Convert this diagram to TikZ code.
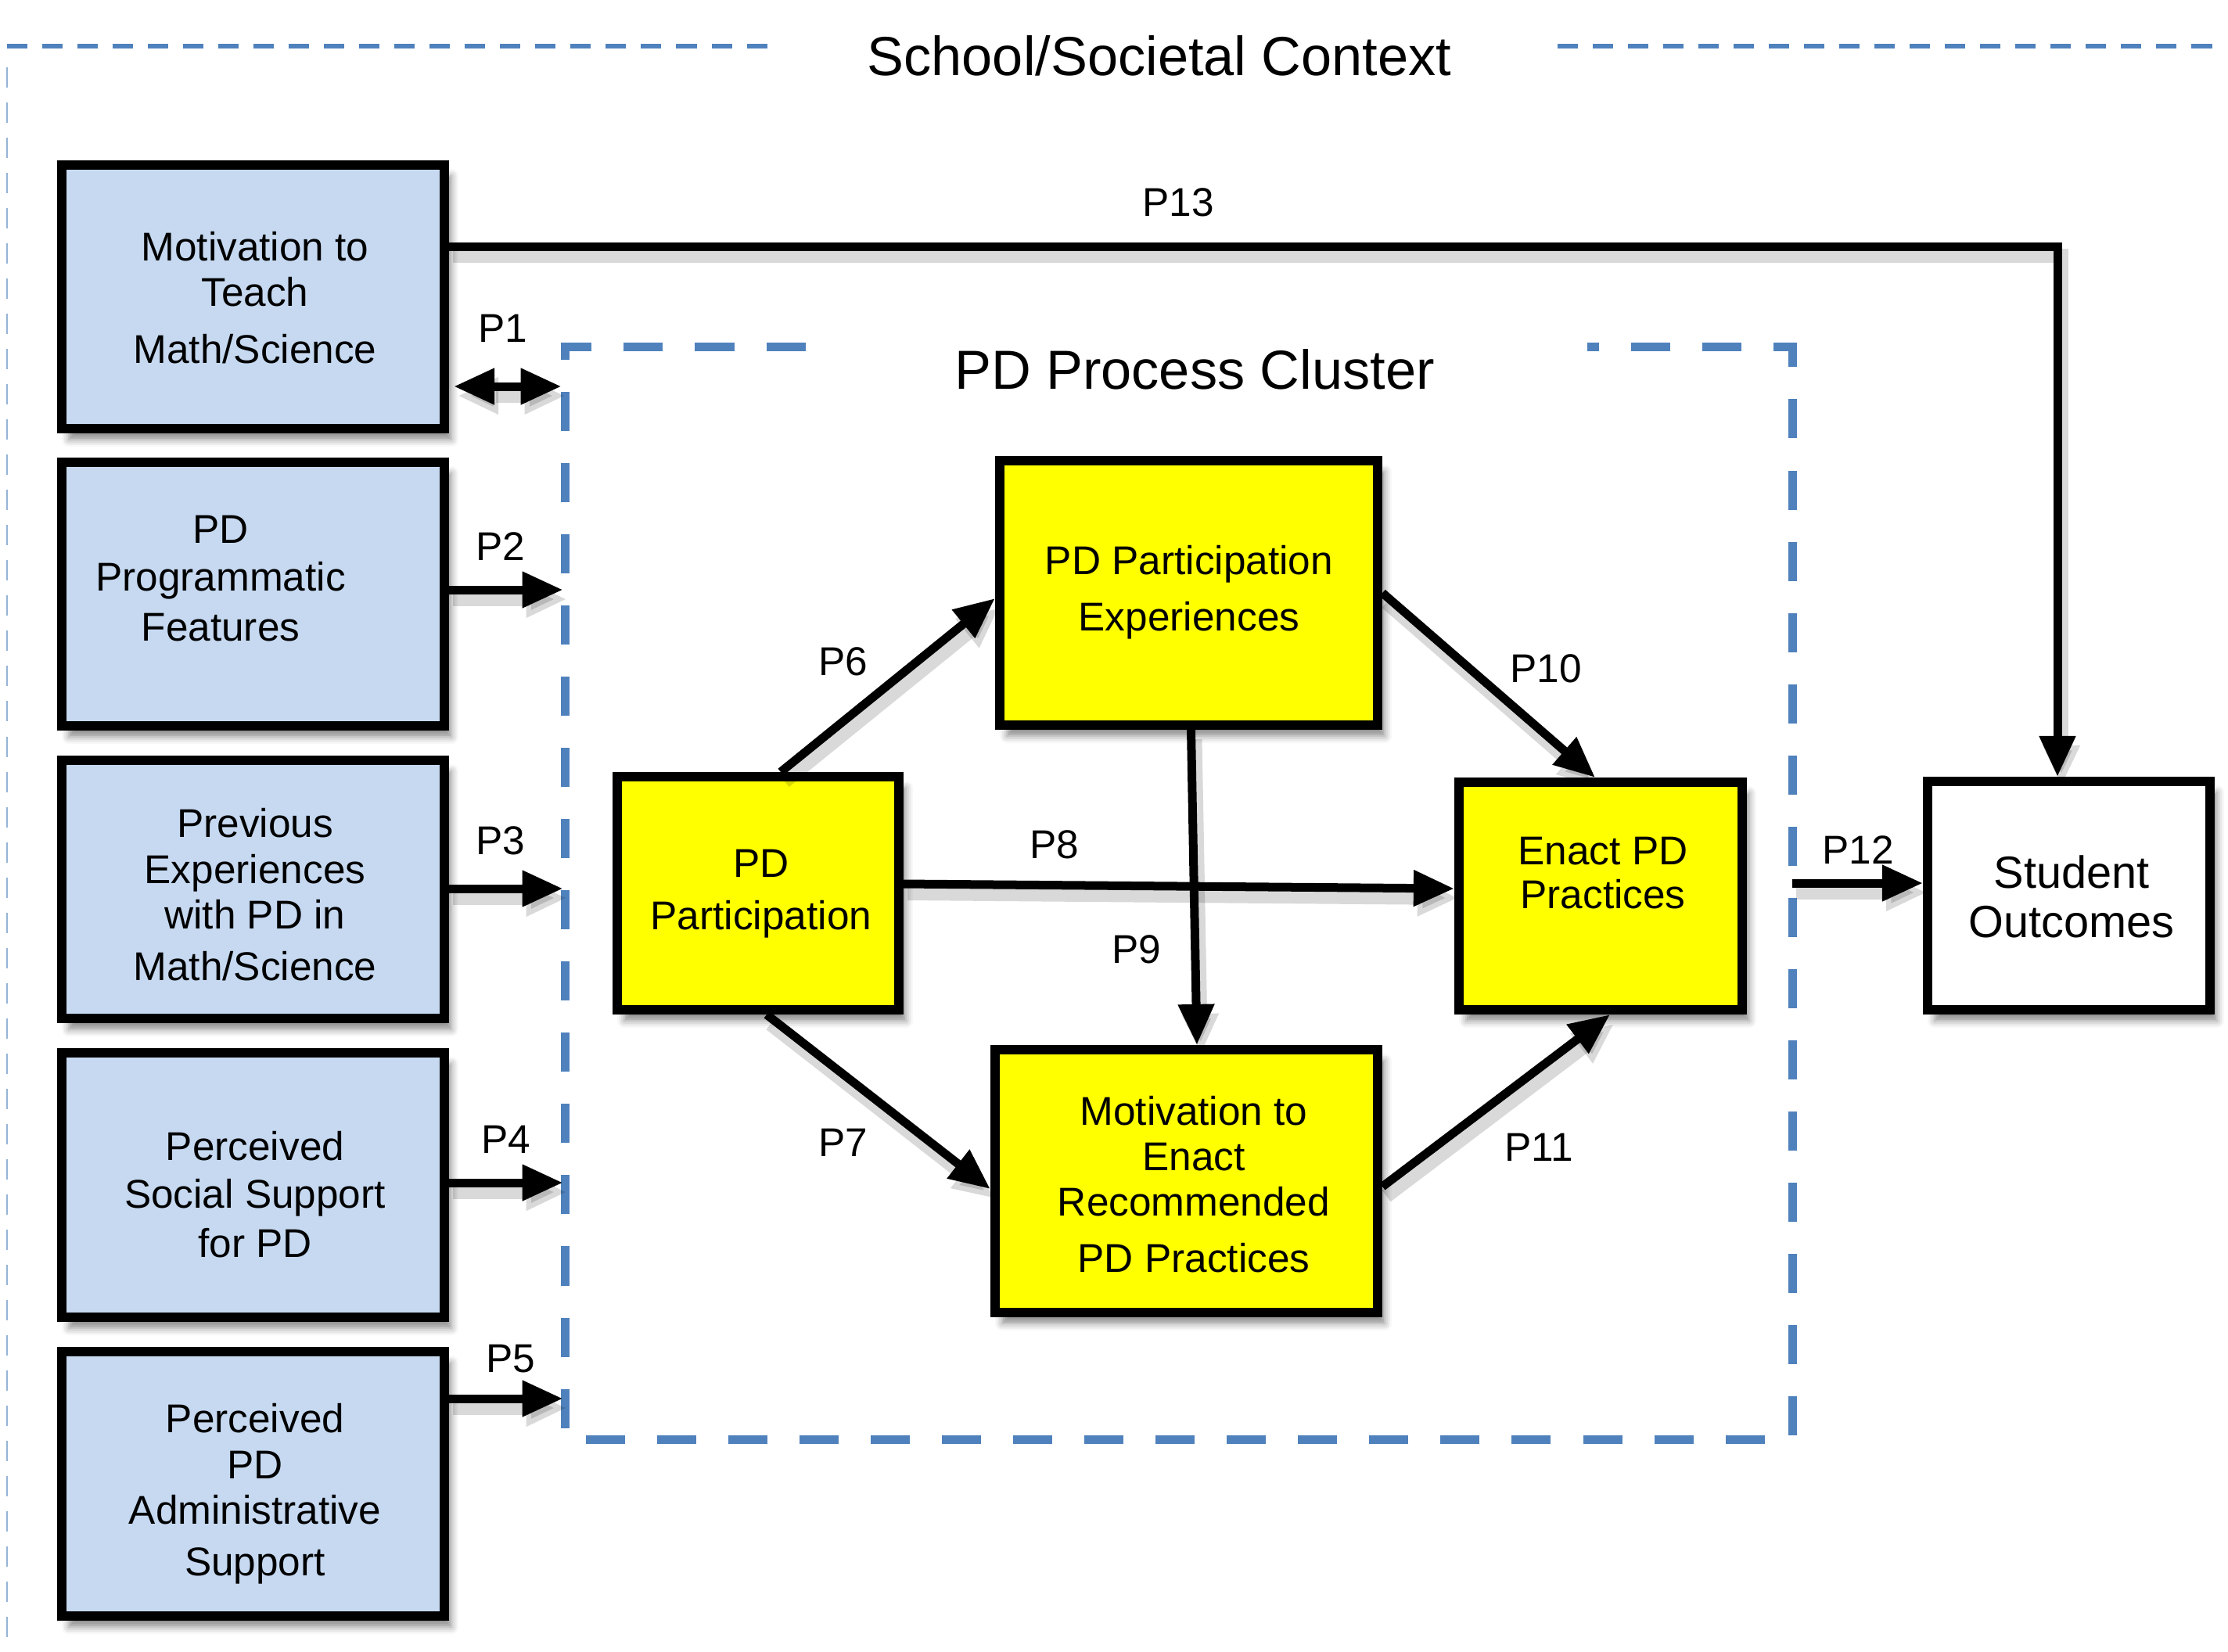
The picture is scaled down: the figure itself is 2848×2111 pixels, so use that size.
\documentclass[tikz,border=0pt]{standalone}
\usepackage{fontspec}
\setmainfont{Liberation Sans}
\usetikzlibrary{arrows.meta,calc,shadows.blur}
\definecolor{ctxblue}{HTML}{4F81BD}
\definecolor{lblue}{HTML}{C6D9F1}
\definecolor{yel}{HTML}{FFFF00}
\begin{document}
\begin{tikzpicture}[x=0.01cm,y=-0.01cm,
  >={Triangle[length=0.52cm,width=0.44cm]},
  box/.style={draw=black, line width=0.12cm, inner sep=0pt,
    blur shadow={shadow xshift=0.09cm, shadow yshift=-0.14cm, shadow blur radius=0.09cm, shadow opacity=45}},
  lbox/.style={box, fill=lblue, minimum width=4.89cm},
  ybox/.style={box, fill=yel},
  txt/.style={font=\fontsize{14.6}{16.6}\selectfont, align=center, anchor=base, inner sep=0pt},
  lab/.style={font=\fontsize{14.6}{16.6}\selectfont, anchor=base, inner sep=0pt},
  ttl/.style={font=\fontsize{20}{24}\selectfont, anchor=base, inner sep=0pt},
  conn/.style={line width=0.11cm, ->,
    preaction={draw=black, opacity=0.15, line width=0.18cm, transform canvas={xshift=0.05cm, yshift=-0.12cm}}},
  ctx/.style={ctxblue, line width=0.065cm, dash pattern=on 0.26cm off 0.19cm},
  clus/.style={ctxblue, line width=0.11cm, dash pattern=on 0.5cm off 0.41cm}]

\useasboundingbox (0,0) rectangle (2848,2111);

% context frame
\draw[ctx] (9,59) -- (981,59);
\draw[ctx] (1991,59) -- (2829,59);
\draw[ctxblue!60, line width=0.015cm, dash pattern=on 0.26cm off 0.19cm] (9,86) -- (9,2111);
\node[ttl] (ctxtitle) at (1482,96) {School/Societal Context};

% PD process cluster
\node[minimum width=15.68cm, minimum height=13.96cm, inner sep=0pt, outer sep=0pt] (pd) at (1507,1142) {};
\draw[clus] ($(pd.north west)+(307,0)$) -- (pd.north west) -- (pd.south west) -- (pd.south east) -- (pd.north east) -- ($(pd.north east)+(-262,0)$);
\node[ttl] (pdtitle) at (1527,497) {PD Process Cluster};

% left boxes
\node[lbox, minimum height=3.37cm] (b1) at (323.5,379.5) {};
\node[lbox, minimum height=3.37cm] (b2) at (323.5,759.5) {};
\node[lbox, minimum height=3.30cm] (b3) at (323.5,1137) {};
\node[lbox, minimum height=3.38cm] (b4) at (323.5,1515) {};
\node[lbox, minimum height=3.38cm] (b5) at (323.5,1897) {};

% process boxes
\node[ybox, minimum width=3.60cm, minimum height=2.98cm] (A) at (969,1142) {};
\node[ybox, minimum width=4.83cm, minimum height=3.38cm] (B) at (1519.5,758) {};
\node[ybox, minimum width=3.62cm, minimum height=2.91cm] (C) at (2046,1145.5) {};
\node[ybox, minimum width=4.89cm, minimum height=3.36cm] (D) at (1516.5,1510) {};
\node[box, fill=white, minimum width=3.61cm, minimum height=2.92cm] (E) at (2644.5,1145) {};

% box texts (anchored at the baseline of the last line)
\node[txt] (t1) at (326,464) {Motivation to\\Teach\\[4pt]Math/Science};
\node[txt] (t2) at (282,819) {PD\\[0.5pt]Programmatic\\[1.6pt]Features};
\node[txt] (t3) at (326,1253) {Previous\\Experiences\\with PD in\\[2pt]Math/Science};
\node[txt] (t4) at (326,1607) {Perceived\\[0.5pt]Social Support\\[1.3pt]for PD};
\node[txt] (t5) at (326,2014) {Perceived\\PD\\Administrative\\[2pt]Support};
\node[txt] (tA) at (973,1188) {PD\\[2.2pt]Participation};
\node[txt] (tB) at (1520,806) {PD Participation\\[3.6pt]Experiences};
\node[txt] (tC) at (2049,1161) {Enact PD\\[-0.7pt]Practices};
\node[txt] (tD) at (1526,1626) {Motivation to\\Enact\\Recommended\\[3.6pt]PD Practices};
\node[txt, font=\fontsize{16.4}{17.9}\selectfont] (tE) at (2648,1198) {Student\\Outcomes};

% connectors
\draw[conn] ($(b1.east)+(0,-64.5)$) -| ($(E.north)+(-14.5,0)$);
\draw[conn,<->] ($(b1.east)+(6,114.5)$) -- ($(pd.west)+(-5,-648)$);
\draw[conn] ($(b2.east)+(0,-5.5)$) -- ($(pd.west)+(-3,-388)$);
\draw[conn] ($(b3.east)+(0,-1)$) -- ($(pd.west)+(-3,-6)$);
\draw[conn] ($(b4.east)+(0,-3)$) -- ($(pd.west)+(-3,370)$);
\draw[conn] ($(b5.east)+(0,-109)$) -- ($(pd.west)+(-3,646)$);
\draw[conn] ($(A.north)+(29,0)$) -- ($(B.west)+(0,7)$);
\draw[conn] ($(A.south)+(11,0)$) -- ($(D.west)+(0,10)$);
\draw[conn] ($(A.east)+(0,-12)$) -- ($(C.west)+(0,-9.5)$);
\draw[conn] ($(B.south)+(3,0)$) -- ($(D.north)+(13.5,0)$);
\draw[conn] (B.east) -- ($(C.north)+(-7,0)$);
\draw[conn] ($(D.east)+(0,7)$) -- ($(C.south)+(12,0)$);
\draw[conn] ($(pd.east)+(0,-13)$) -- ($(E.west)+(0,-16)$);

% path labels
\node[lab] (p13) at (1506,276) {P13};
\node[lab] (p1) at (643,437) {P1};
\node[lab] (p2) at (640,716) {P2};
\node[lab] (p3) at (640,1092) {P3};
\node[lab] (p4) at (647,1474) {P4};
\node[lab] (p5) at (653,1754) {P5};
\node[lab] (p6) at (1078,863) {P6};
\node[lab] (p7) at (1078,1478) {P7};
\node[lab] (p8) at (1348,1097) {P8};
\node[lab] (p9) at (1453,1231) {P9};
\node[lab] (p10) at (1976,872) {P10};
\node[lab] (p11) at (1967,1484) {P11};
\node[lab] (p12) at (2375,1104) {P12};
\end{tikzpicture}
\end{document}
